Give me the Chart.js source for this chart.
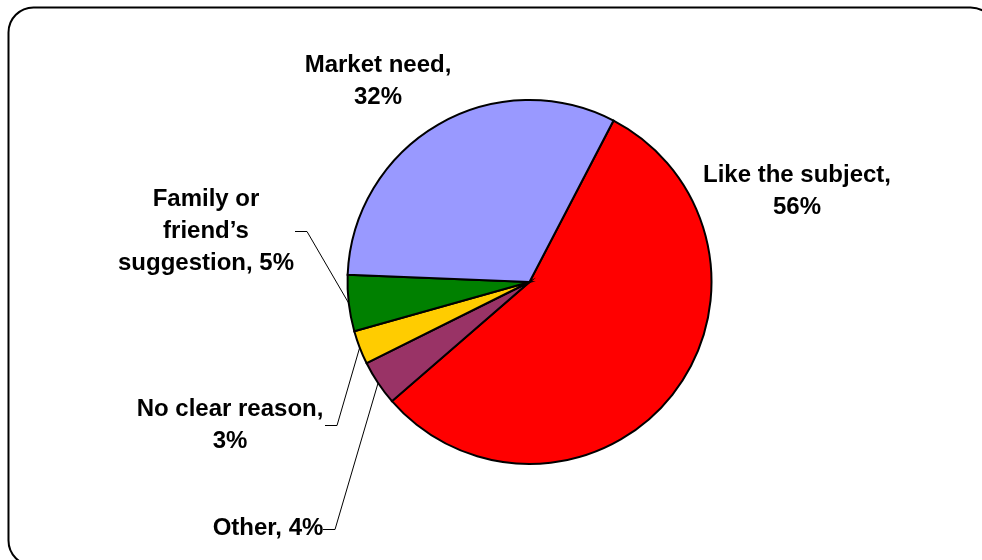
<!DOCTYPE html>
<html>
<head>
<meta charset="utf-8">
<title>Reasons for choosing the subject</title>
<script src="https://cdn.jsdelivr.net/npm/chart.js@4/dist/chart.umd.min.js"></script>
<style>
  html, body { margin: 0; padding: 0; background: #fff; }
  #wrap { position: relative; width: 982px; height: 560px; }
</style>
</head>
<body>
<div id="wrap"><canvas id="pie" width="982" height="560"></canvas></div>
<script>
'use strict';

// slices, clockwise from the red one
const categories = ['Like the subject', 'Other', 'No clear reason', 'Family or friend\u2019s suggestion', 'Market need'];
const shares = [56, 4, 3, 5, 32];
const sliceColors = ['#FF0000', '#993366', '#FFCC00', '#008000', '#9999FF'];

// how each category name wraps, and whether the % goes on its own line
const nameLines = [['Like the subject'], ['Other'], ['No clear reason'], ['Family or', 'friend\u2019s', 'suggestion'], ['Market need']];
const pctOwnLine = [true, false, true, false, true];

// label anchors: centre x, first baseline y
const labelAt = [[797, 182], [268, 535], [230, 416], [206, 206], [378, 72]];
// leader lines: elbow x, elbow y, end x (null = no leader)
const leaders = [null, [335, 529, 323], [337, 425, 325], [307, 231, 295], null];

const FONT = 'bold 24px "Liberation Sans", Arial, sans-serif';
const LINE_H = 32;

const buildLines = function(i) {
  const rows = nameLines[i].slice();
  const last = rows.length - 1;
  if (pctOwnLine[i]) {
    rows[last] += ',';
    rows.push(shares[i] + '%');
  } else {
    rows[last] += ', ' + shares[i] + '%';
  }
  return rows;
};

// rounded frame behind everything
const framePlugin = {
  id: 'frame',
  beforeDraw(chart) {
    const ctx = chart.ctx;
    ctx.save();
    ctx.strokeStyle = '#000';
    ctx.lineWidth = 2;
    ctx.beginPath();
    ctx.roundRect(8.5, 7.5, 987, 558, 25);
    ctx.stroke();
    ctx.restore();
  }
};

// slice labels + leader lines
const labelPlugin = {
  id: 'sliceLabels',
  afterDatasetsDraw(chart) {
    const ctx = chart.ctx;
    const arcs = chart.getDatasetMeta(0).data;
    ctx.save();
    ctx.font = FONT;
    ctx.fillStyle = '#000';
    ctx.textAlign = 'center';
    ctx.textBaseline = 'alphabetic';

    arcs.forEach((arc, i) => {
      const rows = buildLines(i);
      const [lx, ly] = labelAt[i];
      rows.forEach((r, k) => ctx.fillText(r, lx, ly + k * LINE_H));

      const ld = leaders[i];
      if (!ld) return;
      const p = arc.getProps(['x', 'y', 'startAngle', 'endAngle', 'outerRadius'], true);
      const mid = (p.startAngle + p.endAngle) / 2;
      const ex = p.x + Math.cos(mid) * p.outerRadius;
      const ey = p.y + Math.sin(mid) * p.outerRadius;
      ctx.strokeStyle = '#000';
      ctx.lineWidth = 1;
      ctx.beginPath();
      ctx.moveTo(ex, ey);
      ctx.lineTo(ld[0], ld[1] + 0.5);
      ctx.lineTo(ld[2], ld[1] + 0.5);
      ctx.stroke();
    });
    ctx.restore();
  }
};

const ctx = document.getElementById('pie');

new Chart(ctx, {
  type: 'pie',
  data: {
    labels: categories,
    datasets: [{
      data: shares,
      backgroundColor: sliceColors,
      borderColor: '#000',
      borderWidth: 2,
      borderJoinStyle: 'miter'
    }]
  },
  options: {
    responsive: false,
    animation: false,
    rotation: 27.5,
    radius: 182,
    layout: { padding: { left: 97, right: 20, top: 14, bottom: 10 } },
    plugins: {
      legend: { display: false },
      tooltip: { enabled: false }
    }
  },
  plugins: [framePlugin, labelPlugin]
});
</script>
</body>
</html>
